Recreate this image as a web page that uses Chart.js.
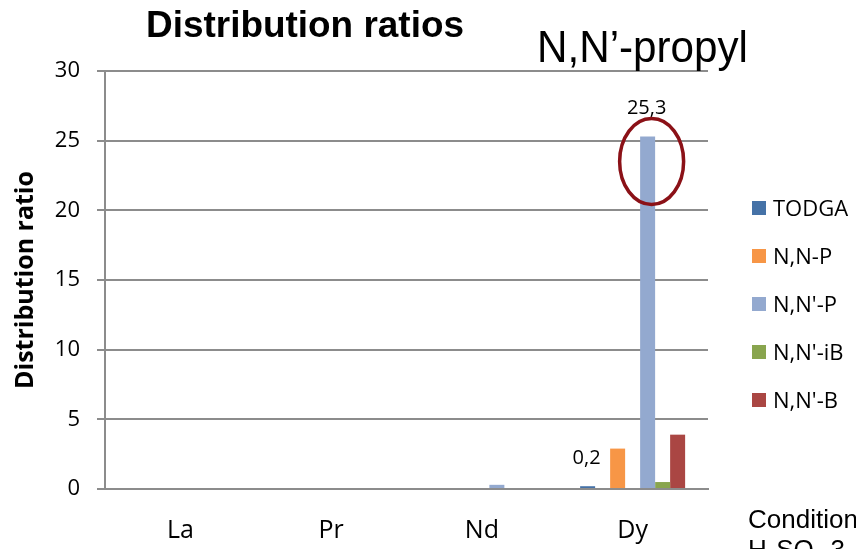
<!DOCTYPE html>
<html>
<head>
<meta charset="utf-8">
<script src="https://cdn.jsdelivr.net/npm/chart.js@4/dist/chart.umd.min.js"></script>
<style>
  html, body { margin: 0; padding: 0; background: #fff; }
  #wrap { position: relative; width: 856px; height: 549px; overflow: hidden; }
  #chart { position: absolute; left: 0; top: 0; }
  .txt { position: absolute; white-space: nowrap; color: #000; transform-origin: 0 0; display: inline-block; }
  #title { font: bold 36px "Liberation Sans", Arial, sans-serif; line-height: 36px; left: 146px; top: 7px; }
  #subtitle { font: 45px "Liberation Sans", Arial, sans-serif; line-height: 45px; left: 537px; top: 24px; }
  .cond { font: 26px "Liberation Sans", Arial, sans-serif; line-height: 26px; left: 748px; }
  #legend .sw { position: absolute; left: 752px; width: 14px; height: 14px; }
  #legend .lt { position: absolute; left: 773px; font: 22px "Open Sans", sans-serif; line-height: 22px; white-space: nowrap; color: #000; }
</style>
</head>
<body>
<div id="wrap">
  <canvas id="chart" width="856" height="549"></canvas>
  <div class="txt" id="title" data-w="318">Distribution ratios</div>
  <div class="txt" id="subtitle" data-w="211">N,N’-propyl</div>
  <div class="txt cond" style="top:506px">Conditions:</div>
  <div class="txt cond" style="top:536px">H<sub style="font-size:17px">2</sub>SO<sub style="font-size:17px">4</sub> 3</div>
  <div id="legend"></div>
</div>
<script>
// Metals on the category axis
const categories = ['La', 'Pr', 'Nd', 'Dy'];

// Extractant series
const seriesNames = ['TODGA', 'N,N-P', "N,N'-P", "N,N'-iB", "N,N'-B"];
const todgaValues = [0, 0, 0, 0.2];
const nnPValues = [0, 0, 0, 2.9];
const nnpPValues = [0, 0, 0.3, 25.3];
const nnpIBValues = [0, 0, 0, 0.5];
const nnpBValues = [0, 0, 0, 3.9];
const seriesValues = [todgaValues, nnPValues, nnpPValues, nnpIBValues, nnpBValues];
const seriesColors = ['#4572A7', '#F79646', '#93A9CF', '#89A54E', '#AA4643'];

// Value axis ticks
const yTicks = [0, 5, 10, 15, 20, 25, 30];

// Points that carry a value label
const labelledPoints = [['TODGA', 'Dy'], ["N,N'-P", 'Dy']];
// Point circled for emphasis
const circledPoint = ["N,N'-P", 'Dy'];

// Bar slots within each category group (null = empty slot)
const slotOrder = [0, null, 1, null, 2, 3, 4];

const datasets = slotOrder.map(idx => {
  if (idx === null) {
    return { label: '', data: categories.map(() => null), backgroundColor: 'rgba(0,0,0,0)' };
  }
  return {
    label: seriesNames[idx],
    data: seriesValues[idx],
    backgroundColor: seriesColors[idx],
    borderWidth: 0
  };
});

const gridColor = '#8C8C8C';

const fmt = v => v.toFixed(1).replace('.', ',');

const annotations = {
  id: 'annotations',
  afterDatasetsDraw(chart) {
    const ctx = chart.ctx;
    const findBar = (name, cat) => {
      const di = chart.data.datasets.findIndex(d => d.label === name);
      const ci = categories.indexOf(cat);
      return { el: chart.getDatasetMeta(di).data[ci], value: chart.data.datasets[di].data[ci] };
    };
    // value labels
    ctx.save();
    ctx.font = '20px "Open Sans", sans-serif';
    ctx.fillStyle = '#000';
    ctx.textAlign = 'center';
    ctx.textBaseline = 'alphabetic';
    labelledPoints.forEach(([name, cat]) => {
      const { el, value } = findBar(name, cat);
      ctx.fillText(fmt(value), el.x - 1, el.y - 22);
    });
    ctx.restore();
    // emphasis ellipse
    const { el } = findBar(circledPoint[0], circledPoint[1]);
    ctx.save();
    ctx.strokeStyle = '#8B1117';
    ctx.lineWidth = 3.5;
    ctx.beginPath();
    ctx.ellipse(el.x + 4, el.y + 25, 32, 43, 0, 0, Math.PI * 2);
    ctx.stroke();
    ctx.restore();
  }
};

new Chart(document.getElementById('chart'), {
  type: 'bar',
  data: { labels: categories, datasets },
  options: {
    responsive: false,
    animation: false,
    devicePixelRatio: 1,
    layout: { padding: { top: 71, right: 148, bottom: 0, left: 0 } },
    datasets: { bar: { categoryPercentage: 0.6965, barPercentage: 1 } },
    plugins: { legend: { display: false }, tooltip: { enabled: false }, title: { display: false } },
    scales: {
      x: {
        grid: { display: false, drawTicks: false },
        border: { display: true, color: gridColor, width: 2 },
        ticks: { color: '#000', font: { family: 'Open Sans', size: 25 }, padding: 27 },
        afterFit(scale) { scale.height = 60; }
      },
      y: {
        min: 0, max: 30,
        afterBuildTicks(scale) { scale.ticks = yTicks.map(v => ({ value: v })); },
        grid: { color: gridColor, lineWidth: 2, drawTicks: true, tickLength: 8, tickColor: gridColor },
        border: { display: true, color: gridColor, width: 2 },
        ticks: { color: '#000', font: { family: 'Open Sans', size: 22 }, padding: 17 },
        title: {
          display: true,
          text: 'Distribution ratio',
          color: '#000',
          font: { family: 'Open Sans', size: 25, weight: 'bold' },
          padding: { top: 11, bottom: 0 }
        },
        afterFit(scale) { scale.width = 105; }
      }
    }
  },
  plugins: [annotations]
});

// Legend built from the series arrays
const legend = document.getElementById('legend');
seriesNames.forEach((name, i) => {
  const sw = document.createElement('div');
  sw.className = 'sw';
  sw.style.top = (201 + 48 * i) + 'px';
  sw.style.background = seriesColors[i];
  legend.appendChild(sw);
  const lt = document.createElement('div');
  lt.className = 'lt';
  lt.style.top = (196 + 48 * i) + 'px';
  lt.textContent = name;
  legend.appendChild(lt);
});

// Fit headline texts to their set widths
document.querySelectorAll('[data-w]').forEach(el => {
  const w = el.getBoundingClientRect().width;
  el.style.transform = 'scaleX(' + (parseFloat(el.dataset.w) / w) + ')';
});
</script>
</body>
</html>
